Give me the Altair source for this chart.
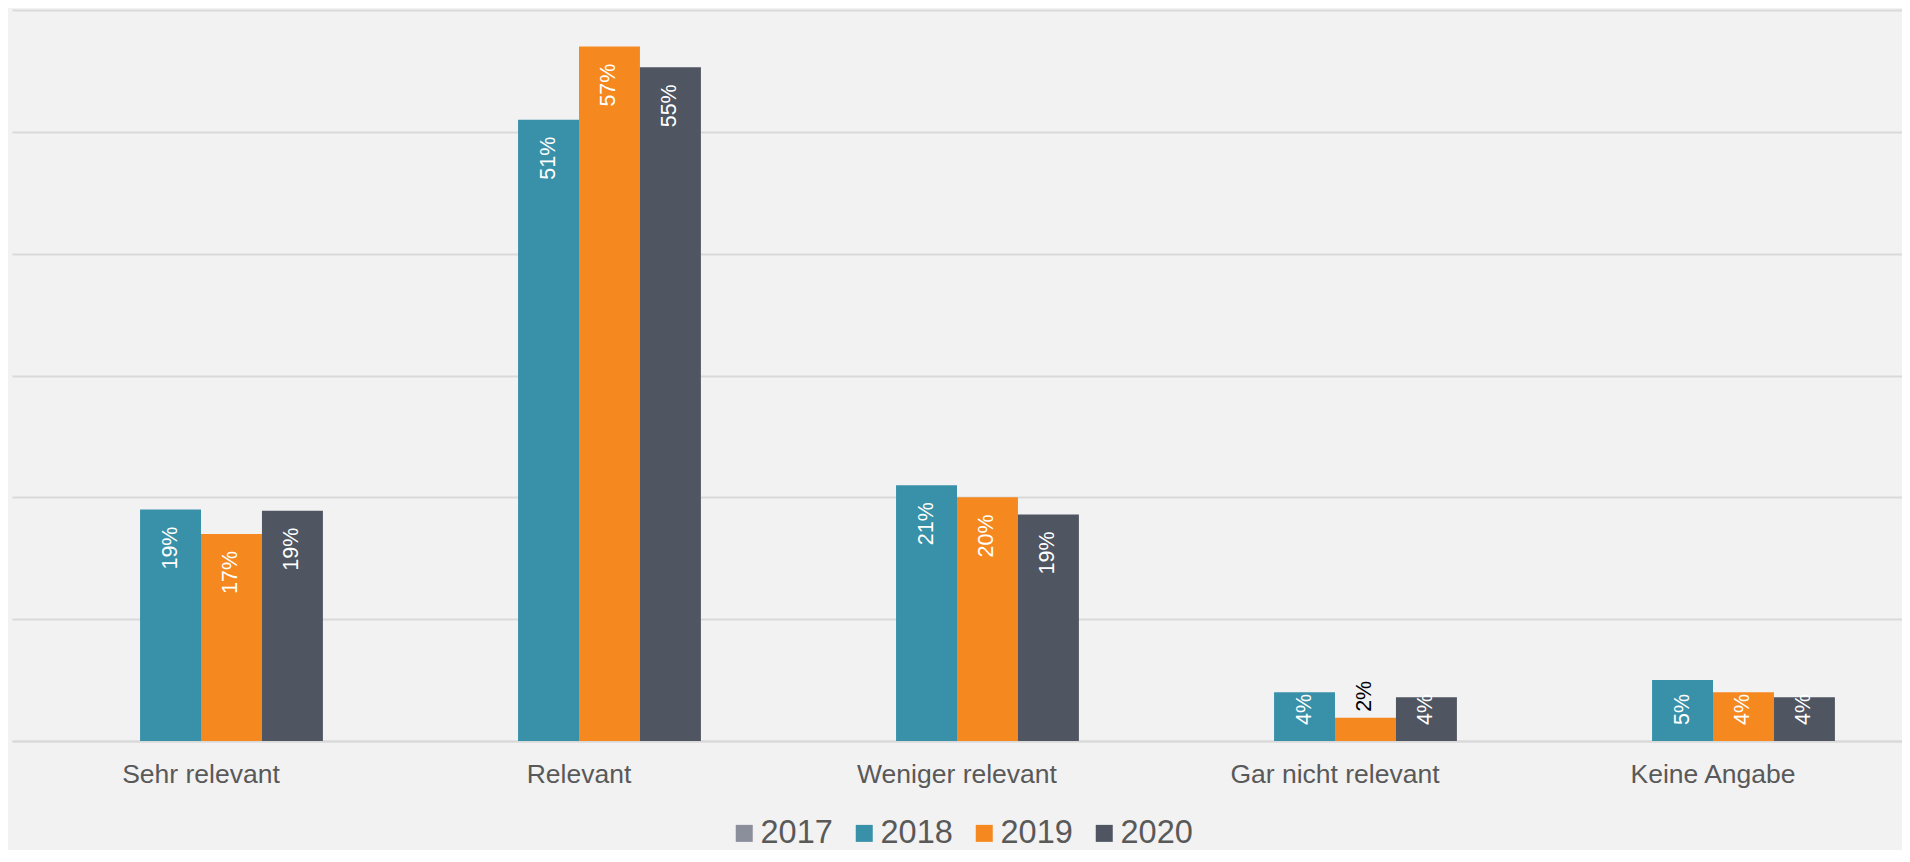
import altair as alt
import pandas as pd

categories = ["Sehr relevant", "Relevant", "Weniger relevant", "Gar nicht relevant", "Keine Angabe"]
years = ["2017", "2018", "2019", "2020"]
colors = ["#8b8f9b", "#3891a9", "#f5891f", "#4f5561"]
v2018 = [19.0, 51.0, 21.0, 4.0, 5.0]
v2019 = [17.0, 57.0, 20.0, 1.9, 4.0]
v2020 = [18.9, 55.3, 18.6, 3.6, 3.6]

rows = []
for yr, vals in (("2018", v2018), ("2019", v2019), ("2020", v2020)):
    for c, v in zip(categories, vals):
        rows.append({"cat": c, "year": yr, "value": v})
df = pd.DataFrame(rows)

FONT = "Liberation Sans"

x_enc = alt.X("cat:N", sort=categories, title=None,
              scale=alt.Scale(paddingInner=0.355, paddingOuter=0.1775),
              axis=alt.Axis(labelAngle=0, labelFontSize=26.5, labelColor="#595959",
                            labelFont=FONT, labelPadding=20, ticks=False, labelLimit=0,
                            domainColor="#d9d9d9", domainWidth=2, grid=False))
xo_enc = alt.XOffset("year:N", sort=years,
                     scale=alt.Scale(domain=years, paddingInner=0, paddingOuter=0))
y_enc = alt.Y("value:Q", title=None,
              scale=alt.Scale(domain=[0, 60], nice=False),
              axis=alt.Axis(values=[0, 10, 20, 30, 40, 50, 60], labels=False, ticks=False,
                            domain=False, gridColor="#d9d9d9", gridWidth=2))

base = alt.Chart(df)

bars = base.mark_bar().encode(
    x=x_enc, xOffset=xo_enc, y=y_enc,
    color=alt.Color("year:N", scale=alt.Scale(domain=years, range=colors),
                    legend=alt.Legend(title=None, orient="none", direction="horizontal",
                                      legendX=716, legendY=807,
                                      symbolType="square", symbolSize=289,
                                      symbolStrokeWidth=0, labelFontSize=32.5,
                                      labelFont=FONT, labelColor="#595959",
                                      labelOffset=0, columnPadding=15, labelLimit=0)),
)

LBL = 21.5

inside_end = base.transform_filter("datum.value >= 6").transform_calculate(
    txt="format(datum.value, '.0f') + '%'"
).mark_text(angle=270, align="right", baseline="middle", dx=-17,
            fontSize=LBL, font=FONT, color="white").encode(
    x=alt.X("cat:N", sort=categories), xOffset=alt.XOffset("year:N", sort=years),
    y=alt.Y("value:Q"), text="txt:N")

inside_base = base.transform_filter("datum.value >= 3 && datum.value < 6").transform_calculate(
    txt="format(datum.value, '.0f') + '%'", zero="0"
).mark_text(angle=270, align="left", baseline="middle", dx=16,
            fontSize=LBL, font=FONT, color="white").encode(
    x=alt.X("cat:N", sort=categories), xOffset=alt.XOffset("year:N", sort=years),
    y=alt.Y("zero:Q"), text="txt:N")

outside = base.transform_filter("datum.value < 3").transform_calculate(
    txt="format(datum.value, '.0f') + '%'"
).mark_text(angle=270, align="left", baseline="middle", dx=6,
            fontSize=LBL, font=FONT, color="black").encode(
    x=alt.X("cat:N", sort=categories), xOffset=alt.XOffset("year:N", sort=years),
    y=alt.Y("value:Q"), text="txt:N")

chart = alt.layer(bars, inside_end, inside_base, outside).properties(
    width=1890, height=731,
    padding={"left": 4, "top": 2, "right": 0, "bottom": 0},
    background="#f2f2f2",
).configure_view(stroke=None).configure_axis(labelFont=FONT)

chart.save("out.html", embed_options={"renderer": "svg", "actions": False})
